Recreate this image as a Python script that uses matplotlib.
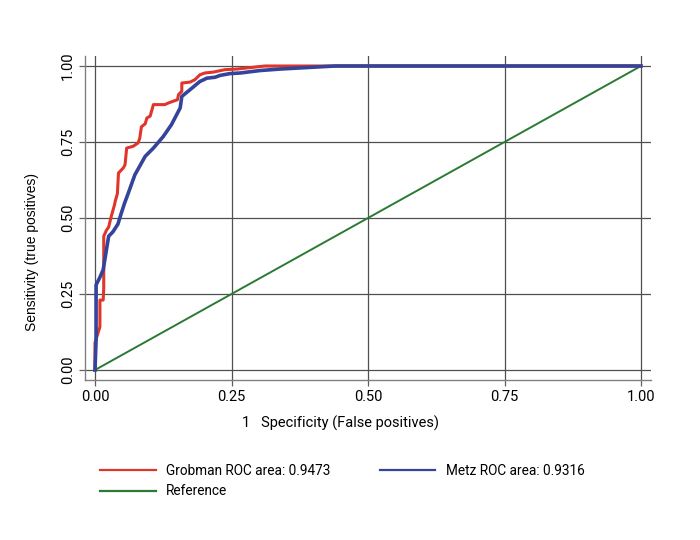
import matplotlib
matplotlib.use("Agg")
import matplotlib.pyplot as plt

# Grobman ROC curve (1 - specificity, sensitivity)
grob_fpr = [0.0, 0.0, 0.0, 0.009, 0.009, 0.015, 0.016, 0.016, 0.016, 0.021, 0.025, 0.029,
            0.033, 0.036, 0.037, 0.041, 0.043, 0.052, 0.055, 0.058, 0.070, 0.079, 0.082,
            0.085, 0.092, 0.095, 0.101, 0.107, 0.128, 0.134, 0.143, 0.151, 0.153, 0.159,
            0.159, 0.174, 0.183, 0.192, 0.201, 0.217, 0.238, 0.260, 0.311, 0.45, 1.0]
grob_tpr = [0.0, 0.04, 0.09, 0.142, 0.23, 0.23, 0.27, 0.33, 0.44, 0.46, 0.47, 0.50,
            0.526, 0.545, 0.555, 0.58, 0.648, 0.665, 0.675, 0.73, 0.736, 0.747, 0.763,
            0.80, 0.81, 0.829, 0.835, 0.873, 0.873, 0.878, 0.884, 0.889, 0.906, 0.917,
            0.944, 0.947, 0.955, 0.971, 0.977, 0.98, 0.988, 0.99, 1.0, 1.0, 1.0]

# Metz ROC curve
metz_fpr = [0.0, 0.002, 0.002, 0.009, 0.015, 0.025, 0.033, 0.042, 0.048, 0.054, 0.061,
            0.073, 0.092, 0.107, 0.125, 0.140, 0.156, 0.159, 0.174, 0.192, 0.205, 0.22,
            0.229, 0.247, 0.266, 0.302, 0.339, 0.44, 1.0]
metz_tpr = [0.0, 0.10, 0.28, 0.305, 0.33, 0.44, 0.455, 0.48, 0.515, 0.548, 0.582,
            0.642, 0.703, 0.73, 0.768, 0.807, 0.862, 0.90, 0.922, 0.949, 0.96, 0.963,
            0.969, 0.975, 0.977, 0.985, 0.99, 1.0, 1.0]

ref_x = [0.0, 1.0]
ref_y = [0.0, 1.0]

ticks = [0.0, 0.25, 0.5, 0.75, 1.0]
tick_labels = ["0.00", "0.25", "0.50", "0.75", "1.00"]

labels = ["Grobman ROC area: 0.9473", "Reference", "Metz ROC area: 0.9316"]

fig = plt.figure(figsize=(7, 5.4), dpi=100)
ax = fig.add_axes([85/700, 1-380/540, (651-85)/700, (380-56)/540])

ax.set_xlim(-10/546, 1 + 10/546)
ax.set_ylim(-10/304, 1 + 10/304)

ax.grid(True, color="#505050", linewidth=0.9, zorder=0)
ax.set_axisbelow(True)

l1, = ax.plot(grob_fpr, grob_tpr, color="#e0352b", linewidth=2.2, zorder=3)
l3, = ax.plot(metz_fpr, metz_tpr, color="#34449a", linewidth=2.6, zorder=4)
l2, = ax.plot(ref_x, ref_y, color="#2a7a33", linewidth=1.4, zorder=2)

ax.set_xticks(ticks)
ax.set_xticklabels(tick_labels)
ax.set_yticks(ticks)
ax.set_yticklabels(tick_labels, rotation=90, va="center")

for s in ["top", "right"]:
    ax.spines[s].set_visible(False)
for s in ["left", "bottom"]:
    ax.spines[s].set_color("#808080")
    ax.spines[s].set_linewidth(1.0)

ax.tick_params(axis="both", direction="out", length=4, width=0.9, color="#606060",
               labelsize=10.5, pad=3)
for lab in ax.get_xticklabels() + ax.get_yticklabels():
    lab.set_family("Roboto")

ax.set_xlabel("1   Specificity (False positives)", fontsize=10.5, family="Roboto")
ax.xaxis.set_label_coords((341-85)/566, (380-416)/324)
ax.set_ylabel("Sensitivity (true positives)", fontsize=10, family="Liberation Sans")
ax.yaxis.set_label_coords((39-85)/566, (380-252)/324)

leg = fig.legend([l1, l2, l3], labels, ncol=2, frameon=False,
                 loc="upper left", bbox_to_anchor=(88/700, 1-452/540),
                 prop={"family": "Roboto", "size": 9.8},
                 handlelength=4.1, handletextpad=0.75, columnspacing=3.6, labelspacing=0.45)
for h in leg.legend_handles:
    h.set_linewidth(1.6)

fig.savefig("out.png", dpi=100, facecolor="white")
